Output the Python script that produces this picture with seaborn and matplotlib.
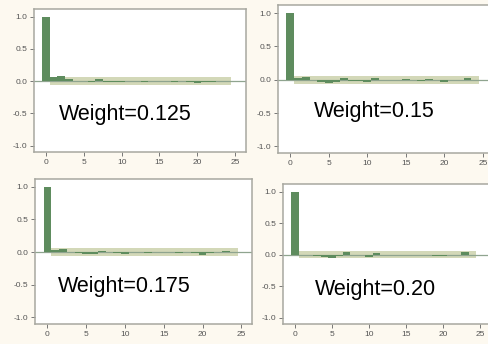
import numpy as np
import pandas as pd
import matplotlib
matplotlib.use("Agg")
import matplotlib.pyplot as plt
import seaborn as sns

sns.set_theme(style="white")
plt.rcParams['font.family'] = ['Liberation Sans', 'DejaVu Sans']

lags = list(range(25))
acf_0125 = [1.0, 0.07, 0.08, 0.03, 0.0, 0.0, -0.02, 0.03, -0.01, -0.01, -0.01, 0.01, 0.0,
            -0.01, 0.0, 0.01, 0.0, -0.01, 0.0, -0.01, -0.03, -0.01, -0.01, 0.01, 0.0]
acf_015 = [1.0, 0.02, 0.04, 0.0, -0.03, -0.05, -0.03, 0.02, -0.02, -0.02, -0.03, 0.02, 0.0,
           -0.01, 0.0, 0.01, 0.0, -0.02, 0.01, -0.01, -0.03, 0.0, 0.0, 0.03, 0.0]
acf_0175 = [1.0, 0.03, 0.05, 0.0, -0.01, -0.03, -0.03, 0.02, 0.0, -0.01, -0.03, 0.01, 0.0,
            -0.01, 0.0, 0.01, 0.0, -0.01, 0.0, -0.01, -0.05, -0.01, 0.0, 0.02, 0.0]
acf_020 = [1.0, -0.01, -0.01, -0.02, -0.04, -0.05, -0.02, 0.04, -0.01, -0.01, -0.04, 0.02, -0.01,
           -0.01, 0.0, 0.0, 0.0, 0.0, -0.01, -0.02, -0.02, 0.0, 0.0, 0.04, 0.0]
labels = ["Weight=0.125", "Weight=0.15", "Weight=0.175", "Weight=0.20"]
series = [acf_0125, acf_015, acf_0175, acf_020]
conf_limit = 0.06
xticks = [0, 5, 10, 15, 20, 25]
yticks = [-1.0, -0.5, 0.0, 0.5, 1.0]

W, H = 488, 344
fig = plt.figure(figsize=(W / 100, H / 100), dpi=100, facecolor="#fdf9f0")

XL = (-1.6, 26.4)
YL = (-1.1, 1.12)
# (left px, top px, bottom px, px per lag unit)
boxes = [(34, 9, 152, 7.56), (278, 5, 153, 7.7), (35, 179, 324, 7.76), (283, 184, 324, 7.4)]
text_pos = [(1.7, -0.52), (3.0, -0.48), (1.3, -0.53), (2.7, -0.55)]

bar_color = "#5e8c5e"
for i, (l, t, b, ppu) in enumerate(boxes):
    w = ppu * (XL[1] - XL[0])
    ax = fig.add_axes([l / W, 1 - b / H, w / W, (b - t) / H])
    ax.set_facecolor("white")
    df = pd.DataFrame({"lag": lags, "acf": series[i]})
    ax.fill_between([0.5, 24.5], [-conf_limit] * 2, [conf_limit] * 2,
                    color="#d3d8b8", zorder=1, lw=0)
    ax.axhline(0, color="#8fa48f", lw=0.9, zorder=2)
    sns.barplot(data=df, x="lag", y="acf", native_scale=True, width=1.0,
                color=bar_color, saturation=1, linewidth=0, ax=ax, zorder=3)
    ax.set_xlim(*XL)
    ax.set_ylim(*YL)
    ax.set_xticks(xticks)
    ax.set_yticks(yticks)
    ax.set_xticklabels([str(v) for v in xticks])
    ax.set_yticklabels([f"{v:.1f}" for v in yticks])
    ax.set_xlabel("")
    ax.set_ylabel("")
    ax.tick_params(axis="both", which="both", direction="out", length=3, width=0.7,
                   colors="#777777", labelsize=6, pad=2, labelcolor="#555555")
    ax.tick_params(left=True, bottom=True)
    for s in ax.spines.values():
        s.set_color("#a8a8a0")
        s.set_linewidth(1.1)
    tx, ty = text_pos[i]
    ax.text(tx, ty, labels[i], fontsize=15.5, color="black", va="center", ha="left")

fig.savefig("out.png", dpi=100, facecolor=fig.get_facecolor())
